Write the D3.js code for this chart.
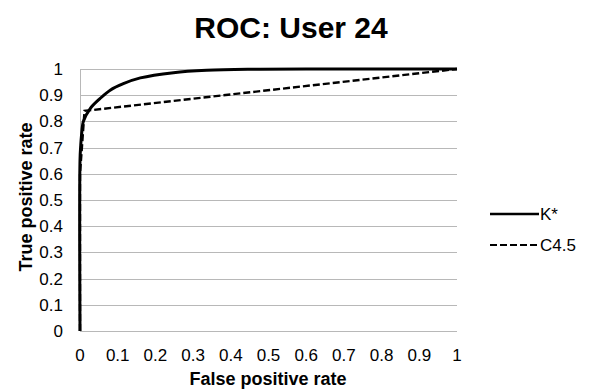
<!DOCTYPE html>
<html>
<head>
<meta charset="utf-8">
<script src="https://cdn.jsdelivr.net/npm/d3@7"></script>
<style>
  html, body { margin: 0; padding: 0; background: #fff; }
  svg { display: block; font-family: "Liberation Sans", Arial, sans-serif; }
</style>
</head>
<body>
<svg id="chart" width="591" height="389"></svg>
<script>
// ROC points (false positive rate, true positive rate)
const kstarFpr = [0, 0, 0.002, 0.004, 0.009, 0.027, 0.053, 0.08, 0.115, 0.16, 0.248, 0.336, 0.45, 0.6, 1];
const kstarTpr = [0, 0.65, 0.71, 0.747, 0.8, 0.849, 0.887, 0.919, 0.944, 0.966, 0.986, 0.995, 0.999, 1, 1];
const c45Fpr = [0, 0, 0.012, 1];
const c45Tpr = [0, 0.6, 0.84, 1];
const tickValues = [0, 0.1, 0.2, 0.3, 0.4, 0.5, 0.6, 0.7, 0.8, 0.9, 1];
const seriesNames = ["K*", "C4.5"];

const svg = d3.select("#chart");
const plotLeft = 80, plotRight = 457, plotTop = 69, plotBottom = 331;

const x = d3.scaleLinear().domain([0, 1]).range([plotLeft, plotRight]);
const y = d3.scaleLinear().domain([0, 1]).range([plotBottom, plotTop]);

// horizontal gridlines
svg.append("g").selectAll("line").data(tickValues).join("line")
  .attr("x1", plotLeft).attr("x2", plotRight)
  .attr("y1", d => Math.round(y(d)) + 0.5).attr("y2", d => Math.round(y(d)) + 0.5)
  .attr("stroke", "#b8b8b8").attr("stroke-width", 1);

// left axis line
svg.append("line").attr("x1", plotLeft + 0.5).attr("x2", plotLeft + 0.5)
  .attr("y1", plotTop).attr("y2", plotBottom).attr("stroke", "#b8b8b8");

const fmt = d => d === 0 ? "0" : d === 1 ? "1" : d3.format(".1f")(d);

// y tick labels
svg.append("g").selectAll("text").data(tickValues).join("text")
  .attr("x", 63).attr("y", d => y(d) + 6)
  .attr("text-anchor", "end").attr("font-size", 17).attr("fill", "#000")
  .text(fmt);

// x tick labels
svg.append("g").selectAll("text").data(tickValues).join("text")
  .attr("x", d => x(d)).attr("y", 361)
  .attr("text-anchor", "middle").attr("font-size", 17).attr("fill", "#000")
  .text(fmt);

// curves
const straight = d3.line().x(d => x(d[0])).y(d => y(d[1]));
const smooth = d3.line().x(d => x(d[0])).y(d => y(d[1])).curve(d3.curveCatmullRom.alpha(0.5));

svg.append("path")
  .datum(c45Fpr.map((f, i) => [f, c45Tpr[i]]))
  .attr("d", straight).attr("fill", "none")
  .attr("stroke", "#000").attr("stroke-width", 2.4).attr("stroke-dasharray", "7,3");

svg.append("path")
  .datum(kstarFpr.map((f, i) => [f, kstarTpr[i]]))
  .attr("d", smooth)
  .attr("fill", "none")
  .attr("stroke", "#000").attr("stroke-width", 3).attr("stroke-linejoin", "round");

// title and axis titles
svg.append("text").attr("x", 291).attr("y", 38).attr("text-anchor", "middle")
  .attr("font-size", 30).attr("font-weight", "bold").text("ROC: User 24");
svg.append("text").attr("x", 268).attr("y", 385).attr("text-anchor", "middle")
  .attr("font-size", 18).attr("font-weight", "bold").text("False positive rate");
svg.append("text").attr("transform", "translate(32,197) rotate(-90)").attr("text-anchor", "middle")
  .attr("font-size", 18).attr("font-weight", "bold").text("True positive rate");

// legend
const legend = svg.append("g");
const dashes = [null, "7,3"];
const widths = [2.4, 2.2];
seriesNames.forEach((name, i) => {
  const ly = 214 + i * 31;
  legend.append("line").attr("x1", 490).attr("x2", 539).attr("y1", ly).attr("y2", ly)
    .attr("stroke", "#000").attr("stroke-width", widths[i])
    .attr("stroke-dasharray", dashes[i]);
  legend.append("text").attr("x", 540).attr("y", ly + 6).attr("font-size", 17).text(name);
});
</script>
</body>
</html>
